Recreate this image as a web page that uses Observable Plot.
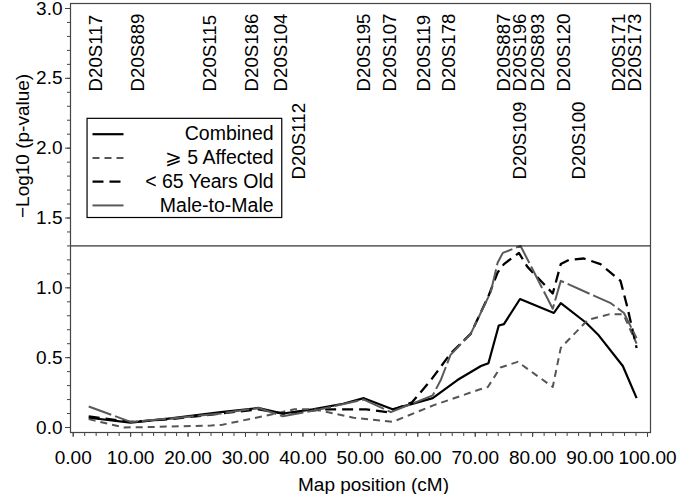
<!DOCTYPE html>
<html><head><meta charset="utf-8">
<script src="https://cdn.jsdelivr.net/npm/d3@7"></script>
<script src="https://cdn.jsdelivr.net/npm/@observablehq/plot@0.6"></script>
<style>body{margin:0;background:#fff}</style>
</head><body><div id="chart"></div>
<script>
// Marker labels (position in cM, row 0 = upper, 1 = lower)
const markerNames = ["D20S117","D20S889","D20S115","D20S186","D20S104","D20S112","D20S195","D20S107","D20S119","D20S178","D20S887","D20S196","D20S109","D20S893","D20S120","D20S100","D20S171","D20S173"];
const markerPos   = [3.9, 11.2, 23.9, 31.1, 36.1, 39.4, 50.6, 55.1, 61.0, 65.4, 75.0, 77.8, 77.8, 80.9, 85.4, 88.0, 95.0, 97.9];
const markerRow   = [0, 0, 0, 0, 0, 1, 0, 0, 0, 0, 0, 0, 1, 0, 0, 1, 0, 0];

// Series
const combinedX = [2.7, 10, 17, 25.7, 32.3, 36.5, 41.7, 47, 50.6, 55.6, 62.6, 66.9, 71, 72.3, 74.1, 75.0, 77.8, 83.7, 84.9, 89.3, 91.5, 95.7, 98.1];
const combinedY = [0.07, 0.035, 0.065, 0.11, 0.14, 0.10, 0.13, 0.17, 0.21, 0.13, 0.21, 0.34, 0.44, 0.46, 0.73, 0.74, 0.92, 0.82, 0.89, 0.75, 0.66, 0.44, 0.21];

const affectedX = [2.7, 8.8, 15, 24, 26, 33, 38.5, 42, 48.8, 55.6, 62.8, 70.6, 72.2, 74.4, 77.4, 83.5, 84.9, 89.6, 93.3, 95.8, 98.1];
const affectedY = [0.06, 0.0, 0.005, 0.014, 0.02, 0.08, 0.13, 0.13, 0.07, 0.04, 0.16, 0.27, 0.29, 0.43, 0.47, 0.29, 0.57, 0.77, 0.81, 0.81, 0.60];

const youngX = [2.7, 10, 17, 25.7, 32.3, 36.5, 41, 44, 51, 54.7, 59, 62.3, 65.7, 69.2, 72.3, 73.9, 75.0, 77.6, 79.1, 83.5, 84.9, 86.3, 88.9, 91.8, 95.3, 96.5, 98.1];
const youngY = [0.08, 0.04, 0.06, 0.10, 0.13, 0.10, 0.12, 0.13, 0.13, 0.11, 0.18, 0.34, 0.53, 0.67, 0.94, 1.11, 1.17, 1.25, 1.15, 0.96, 1.17, 1.20, 1.21, 1.17, 1.05, 0.86, 0.57];

const maleX = [2.7, 10, 17, 25.7, 32.3, 36.5, 43, 50.6, 55.3, 62.6, 64, 65.7, 69.2, 72.7, 73.9, 74.8, 77.9, 83.5, 84.9, 93.6, 95.9, 98.1];
const maleY = [0.15, 0.04, 0.065, 0.10, 0.14, 0.08, 0.13, 0.20, 0.11, 0.23, 0.34, 0.52, 0.67, 0.97, 1.18, 1.25, 1.30, 0.85, 1.05, 0.89, 0.82, 0.64];

const seriesNames = ["Combined", "\u2A7E 5 Affected", "< 65 Years Old", "Male-to-Male"];
const threshold = 1.3;
const xTicks = d3.range(0, 101, 10);
const yTicks = d3.range(0, 3.01, 0.5);

const styles = [
  {stroke: "#000", strokeWidth: 2.2, strokeDasharray: null},
  {stroke: "#555", strokeWidth: 2, strokeDasharray: "7,5"},
  {stroke: "#000", strokeWidth: 2.3, strokeDasharray: "11,6"},
  {stroke: "#5a5a5a", strokeWidth: 2, strokeDasharray: "24,4"}
];
const legendDash = [null, "7,5", "11,6", null];
const seriesXY = [[combinedX, combinedY], [affectedX, affectedY], [youngX, youngY], [maleX, maleY]];

const markers = markerNames.map((n, i) => ({name: n, x: markerPos[i], row: markerRow[i]}));

// legend layout (data units)
const legX1 = 2.5, legX2 = 36.4, legY1 = 1.50, legY2 = 2.21;
const legRows = [2.10, 1.93, 1.76, 1.59];
const legend = seriesNames.map((n, i) => ({name: n, y: legRows[i], i}));

const marks = [];
seriesXY.forEach(([xs, ys], i) => {
  const data = xs.map((x, j) => ({x, y: ys[j]}));
  marks.push(Plot.line(data, {x: "x", y: "y", ...styles[i], strokeLinejoin: "round", strokeLinecap: "butt"}));
});
marks.push(Plot.ruleY([threshold], {stroke: "#000", strokeWidth: 1}));
marks.push(Plot.text(markers, {x: "x", y: d => d.row === 0 ? 2.406 : 1.776, text: "name", rotate: -90, textAnchor: "start", lineAnchor: "middle", fontSize: 18.7, fill: "#000"}));
// legend
marks.push(Plot.rect([0], {x1: legX1, x2: legX2, y1: legY1, y2: legY2, fill: "#fff", stroke: "#000", strokeWidth: 1.2}));
legend.forEach(d => {
  marks.push(Plot.link([d], {x1: 3.36, x2: 8.76, y1: "y", y2: "y", ...styles[d.i], strokeDasharray: legendDash[d.i]}));
});
marks.push(Plot.text(legend, {x: 34.9, y: "y", text: "name", textAnchor: "end", fontSize: 19.5, fill: "#000"}));
// axes
marks.push(Plot.axisX({ticks: xTicks, tickFormat: d3.format(".2f"), tickSize: 5, tickPadding: 13, fontSize: 19, label: null, stroke: "#444"}));
marks.push(Plot.axisX({ticks: d3.range(0, 101, 2), tickFormat: () => "", tickSize: 4, label: null, stroke: "#444"}));
marks.push(Plot.axisY({ticks: yTicks, tickFormat: d3.format(".1f"), tickSize: 5, tickPadding: 3, fontSize: 19, label: null, stroke: "#444"}));
marks.push(Plot.axisY({ticks: d3.range(0, 3.01, 0.1), tickFormat: () => "", tickSize: 3, label: null, stroke: "#444"}));
marks.push(Plot.frame({stroke: "#444", strokeWidth: 1.2}));
marks.push(Plot.text(["\u2212Log10 (p-value)"], {frameAnchor: "left", dx: -48, rotate: -90, fontSize: 19, fill: "#000"}));
marks.push(Plot.text(["Map position (cM)"], {frameAnchor: "bottom", dy: 58, dx: 13, fontSize: 19, fill: "#000"}));

const chart = Plot.plot({
  width: 680, height: 494,
  marginLeft: 70, marginRight: 30, marginTop: 3, marginBottom: 62,
  style: {fontFamily: "'Liberation Sans', Arial, Helvetica, sans-serif", fontSize: "19px", background: "#fff", color: "#000"},
  x: {domain: [-0.47, 100.52]},
  y: {domain: [-0.0358, 3.0358]},
  marks
});
document.getElementById("chart").appendChild(chart);
</script>
</body></html>
